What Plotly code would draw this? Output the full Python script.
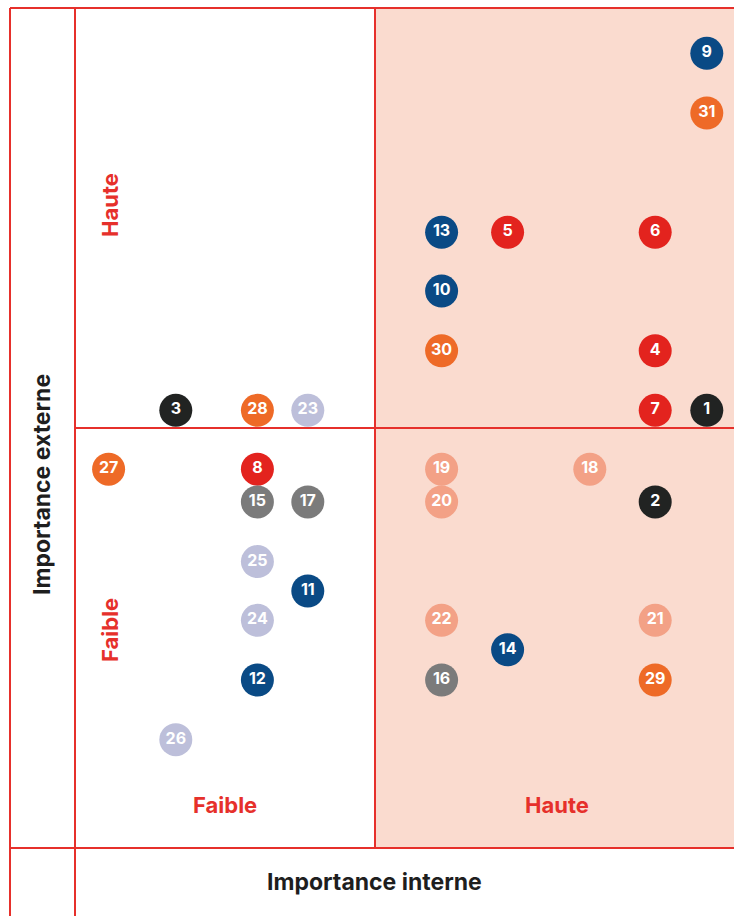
import plotly.graph_objects as go

W, H = 734, 916

# ---- data (scores 0-100; divider at 50) ----
ids = [9, 31, 13, 5, 6, 10, 30, 4, 3, 28, 23, 7, 1, 27, 8, 19, 18, 15, 17, 20, 2,
       25, 11, 24, 22, 21, 14, 12, 16, 29, 26]
internal = [105.3, 105.3, 61.1, 72.1, 96.7, 61.1, 61.1, 96.7, 16.8, 30.4, 38.8, 96.7, 105.3,
            5.6, 30.4, 61.1, 85.8, 30.4, 38.8, 61.1, 96.7,
            30.4, 38.8, 30.4, 61.1, 96.7, 72.1, 30.4, 61.1, 96.7, 16.8]
external = [94.6, 87.5, 73.3, 73.3, 73.3, 66.3, 59.2, 59.2, 52.1, 52.1, 52.1, 52.1, 52.1,
            45.1, 45.1, 45.1, 45.1, 41.2, 41.2, 41.2, 41.2,
            34.1, 30.6, 27.1, 27.1, 27.1, 23.6, 20.0, 20.0, 20.0, 12.9]
category = ["navy", "orange", "navy", "red", "red", "navy", "orange", "red", "black", "orange",
            "lavender", "red", "black", "orange", "red", "salmon", "salmon", "gray", "gray",
            "salmon", "black", "lavender", "navy", "lavender", "salmon", "salmon", "navy",
            "navy", "gray", "orange", "lavender"]

palette = {
    "navy": "#0A4A85",
    "red": "#E3231E",
    "orange": "#EE6A27",
    "black": "#212322",
    "gray": "#7B7B7B",
    "lavender": "#BDBFDA",
    "salmon": "#F3A186",
}

RED = "#E6302B"
SHADE = "#FADBCF"

def px_x(p):
    return p / W

def px_y(p):
    return 1 - p / H

# plot area in pixels
L, T, B = 75, 8, 848
x_range = [0, (W - L) / 6.0]
y_range = [0, 100]

fig = go.Figure()
fig.add_trace(go.Scatter(
    x=internal, y=external, mode="markers+text",
    text=[str(i) for i in ids],
    textposition="middle center",
    textfont=dict(color="white", size=16, family="Inter, 'Open Sans', sans-serif", weight="bold"),
    marker=dict(size=33, color=[palette[c] for c in category], line=dict(width=0)),
    hoverinfo="skip", showlegend=False, cliponaxis=False,
))

shapes = []
# shaded "Haute" internal zone
shapes.append(dict(type="rect", xref="x", yref="paper", x0=50, x1=x_range[1],
                   y0=px_y(B), y1=px_y(T), fillcolor=SHADE, line=dict(width=0), layer="below"))
line = dict(color=RED, width=2)
# outer frame lines
shapes.append(dict(type="line", xref="paper", yref="paper", x0=px_x(10), x1=px_x(10), y0=px_y(T), y1=0, line=line))
shapes.append(dict(type="line", xref="paper", yref="paper", x0=px_x(L), x1=px_x(L), y0=px_y(T), y1=0, line=line))
shapes.append(dict(type="line", xref="paper", yref="paper", x0=px_x(10), x1=1, y0=px_y(T), y1=px_y(T), line=line))
shapes.append(dict(type="line", xref="paper", yref="paper", x0=px_x(10), x1=1, y0=px_y(B), y1=px_y(B), line=line))
# dividers
shapes.append(dict(type="line", xref="x", yref="paper", x0=50, x1=50, y0=px_y(B), y1=px_y(T), line=line))
shapes.append(dict(type="line", xref="paper", yref="y", x0=px_x(L), x1=1, y0=50, y1=50, line=line))

lab_font = dict(color=RED, size=22, family="Inter, 'Open Sans', sans-serif", weight="bold")
ttl_font = dict(color="#1E1E1E", size=23, family="Inter, 'Open Sans', sans-serif", weight="bold")
annotations = [
    dict(text="Haute", x=px_x(110), y=px_y(205), textangle=-90, font=lab_font),
    dict(text="Faible", x=px_x(110), y=px_y(630), textangle=-90, font=lab_font),
    dict(text="Faible", x=px_x(225), y=px_y(805), font=lab_font),
    dict(text="Haute", x=px_x(557), y=px_y(805), font=lab_font),
    dict(text="Importance externe", x=px_x(42), y=px_y(485), textangle=-90, font=ttl_font),
    dict(text="Importance interne", x=px_x(374), y=px_y(882), font=ttl_font),
]
for a in annotations:
    a.update(xref="paper", yref="paper", showarrow=False, xanchor="center", yanchor="middle")

fig.update_layout(
    width=W, height=H,
    margin=dict(l=0, r=0, t=0, b=0),
    paper_bgcolor="white", plot_bgcolor="rgba(0,0,0,0)",
    xaxis=dict(domain=[px_x(L), 1], range=x_range, visible=False, fixedrange=True),
    yaxis=dict(domain=[px_y(B), px_y(T)], range=y_range, visible=False, fixedrange=True),
    shapes=shapes, annotations=annotations,
)

fig.write_html(
    "out.html",
    config={"displayModeBar": False},
    post_script="document.body.style.margin='0';document.body.style.overflow='hidden';",
)
